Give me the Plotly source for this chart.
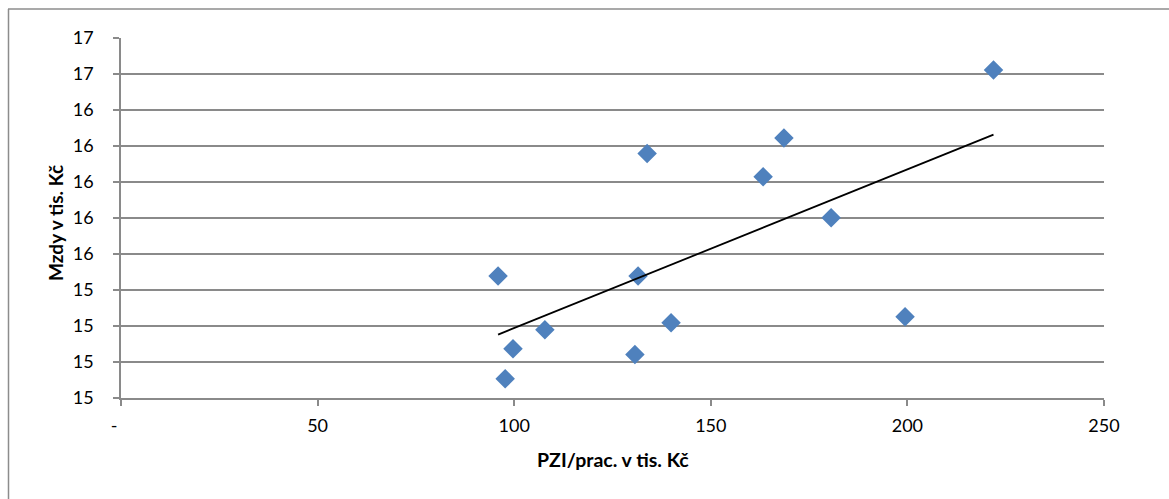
import numpy as np
import plotly.graph_objects as go

# Data
pzi_per_worker = [221.9, 168.6, 133.8, 163.3, 180.6, 95.9, 131.5, 107.8, 139.9, 199.4, 99.7, 130.7, 97.7]
wages = [16.622, 16.244, 16.159, 16.029, 15.802, 15.478, 15.478, 15.179, 15.218, 15.252, 15.074, 15.041, 14.907]

x_tick_vals = [0, 50, 100, 150, 200, 250]
x_tick_text = ["-\u00a0\u00a0\u00a0", "50", "100", "150", "200", "250"]
y_tick_vals = [14.8, 15.0, 15.2, 15.4, 15.6, 15.8, 16.0, 16.2, 16.4, 16.6, 16.8]
y_tick_text = ["15", "15", "15", "15", "16", "16", "16", "16", "16", "17", "17"]

x_title = "PZI/prac. v tis. Kč"
y_title = "Mzdy v tis. Kč"

# Linear trendline from data
slope, intercept = np.polyfit(pzi_per_worker, wages, 1)
tx = [min(pzi_per_worker), max(pzi_per_worker)]
ty = [slope * v + intercept for v in tx]

# body margin is removed by post_script, so figure origin = page origin
W, H = 1169, 499
L, T = 121, 38
pw = 1104 - 121
ph = 398 - 38
R = W - L - pw
B = H - T - ph

def px(xpage):
    return (xpage - L) / pw

def py(ypage):
    return (T + ph - ypage) / ph

GRID = "#8A8A8A"
FONT = "Lato"

fig = go.Figure()
fig.add_trace(go.Scatter(
    x=pzi_per_worker, y=wages, mode="markers",
    marker=dict(symbol="diamond", size=15, color="#4F81BD", line=dict(width=0)),
    showlegend=False, hoverinfo="x+y",
))
fig.add_trace(go.Scatter(
    x=tx, y=ty, mode="lines",
    line=dict(color="black", width=1.8),
    showlegend=False, hoverinfo="skip",
))

fig.update_layout(
    width=W, height=H,
    margin=dict(l=L, r=R, t=T, b=B, pad=0),
    paper_bgcolor="white", plot_bgcolor="white",
    font=dict(family=FONT, size=18, color="black"),
    xaxis=dict(
        range=[0, 250], tickvals=x_tick_vals, ticktext=x_tick_text,
        showgrid=False, zeroline=False,
        showline=True, linecolor=GRID, linewidth=1.5,
        ticks="outside", ticklen=6, tickcolor=GRID, tickwidth=1.5,
        ticklabelstandoff=5,
        tickfont=dict(family=FONT, size=18, color="black"),
    ),
    yaxis=dict(
        range=[14.8, 16.8], tickvals=y_tick_vals, ticktext=y_tick_text,
        showgrid=True, gridcolor=GRID, gridwidth=1.5, zeroline=False,
        showline=True, linecolor=GRID, linewidth=1.5,
        ticks="outside", ticklen=6, tickcolor=GRID, tickwidth=1.5,
        ticklabelstandoff=16,
        tickfont=dict(family=FONT, size=18, color="black"),
    ),
    annotations=[
        dict(text="<b>" + x_title + "</b>", xref="paper", yref="paper",
             x=px(612.5), y=py(459), xanchor="center", yanchor="middle",
             showarrow=False, font=dict(family=FONT, size=19.5, color="black")),
        dict(text="<b>" + y_title + "</b>", xref="paper", yref="paper",
             x=px(56), y=py(223), xanchor="center", yanchor="middle",
             textangle=-90, showarrow=False,
             font=dict(family=FONT, size=19, color="black")),
    ],
    shapes=[
        dict(type="line", xref="paper", yref="paper",
             x0=px(8.5), x1=px(8.5), y0=py(9), y1=py(520),
             line=dict(color="#8C8C8C", width=1.5)),
        dict(type="line", xref="paper", yref="paper",
             x0=px(8), x1=px(1190), y0=py(9), y1=py(9),
             line=dict(color="#8C8C8C", width=1.5)),
    ],
)

fig.write_html(
    "out.html",
    config={"displayModeBar": False},
    post_script="document.body.style.margin='0';document.body.style.overflow='hidden';",
)
